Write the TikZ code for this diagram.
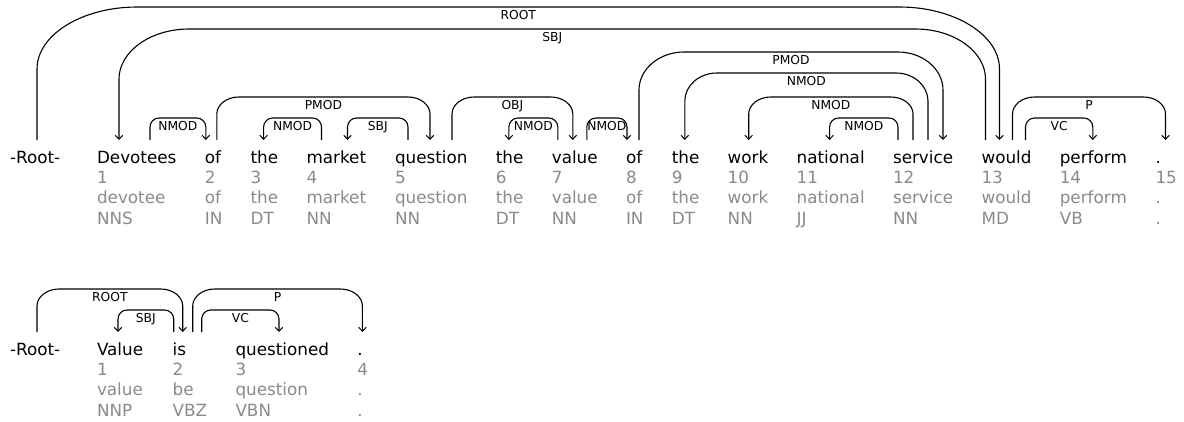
\documentclass[tikz,border=0pt]{standalone}
\usepackage{fontspec}
\setmainfont{DejaVu Sans}
\usetikzlibrary{calc,arrows.meta}
\definecolor{tokgray}{RGB}{138,138,138}
\tikzset{
  tok/.style={anchor=base west, inner sep=0pt, outer sep=0pt, font=\fontsize{16.8}{20}\selectfont},
  meta/.style={tok, text=tokgray},
  deparc/.style={line width=1.1pt, -{Straight Barb[length=4pt,width=7.5pt,line width=1pt]}},
  deplabel/.style={anchor=base, inner sep=0pt, yshift=-12pt, font=\fontsize{12.3}{13}\selectfont},
}
% one token column: word, index, lemma, tag
\newcommand\tokcol[7]{%
  \node[tok] (#1) at (#2,#3) {#4};
  \node[meta] (#1n) at ($(#1.base west)+(0,-20.3)$) {#5};
  \node[meta] (#1l) at ($(#1.base west)+(0,-40.6)$) {#6};
  \node[meta] (#1t) at ($(#1.base west)+(0,-61)$) {#7};
}
% attachment point above a word
\newcommand\att[3]{\coordinate (#1) at ($(#2.base west)+(#3,23)$);}
% dependency arc: head, dependent, top y, vertical radius, horizontal radius, label
\newcommand\deparc[6]{%
  \draw[deparc] let \p1=(#1), \p2=(#2), \n1={sign(\x2-\x1)} in
    (\p1) -- (\x1,{#3-#4})
    .. controls (\x1,{#3-0.45*#4}) and ({\x1+\n1*0.45*#5},#3) .. ({\x1+\n1*#5},#3)
    -- node[deplabel]{#6} ({\x2-\n1*#5},#3)
    .. controls ({\x2-\n1*0.45*#5},#3) and (\x2,{#3-0.45*#4}) .. (\x2,{#3-#4})
    -- (\p2);
}
\begin{document}
\begin{tikzpicture}[x=1pt,y=1pt]
\useasboundingbox (0,0) rectangle (1184,-421);

% ---- sentence 1 ----
\node[tok] (w0) at (10,-163) {-Root-};
\tokcol{w1}{97}{-163}{Devotees}{1}{devotee}{NNS}
\tokcol{w2}{204.8}{-163}{of}{2}{of}{IN}
\tokcol{w3}{250.6}{-163}{the}{3}{the}{DT}
\tokcol{w4}{306.5}{-163}{market}{4}{market}{NN}
\tokcol{w5}{395.0}{-163}{question}{5}{question}{NN}
\tokcol{w6}{495.9}{-163}{the}{6}{the}{DT}
\tokcol{w7}{551.8}{-163}{value}{7}{value}{NN}
\tokcol{w8}{626.0}{-163}{of}{8}{of}{IN}
\tokcol{w9}{671.8}{-163}{the}{9}{the}{DT}
\tokcol{w10}{727.7}{-163}{work}{10}{work}{NN}
\tokcol{w11}{796.6}{-163}{national}{11}{national}{JJ}
\tokcol{w12}{893.0}{-163}{service}{12}{service}{NN}
\tokcol{w13}{981.5}{-163}{would}{13}{would}{MD}
\tokcol{w14}{1059.8}{-163}{perform}{14}{perform}{VB}
\tokcol{w15}{1155.5}{-163}{.}{15}{.}{.}

\att{r0}{w0}{27}
\att{w1a}{w1}{22} \att{w1b}{w1}{53}
\att{w2a}{w2}{1} \att{w2b}{w2}{12}
\att{w3a}{w3}{13}
\att{w4a}{w4}{15} \att{w4b}{w4}{41}
\att{w5a}{w5}{13} \att{w5b}{w5}{35} \att{w5c}{w5}{57}
\att{w6a}{w6}{13}
\att{w7a}{w7}{6} \att{w7b}{w7}{21} \att{w7c}{w7}{35}
\att{w8a}{w8}{1} \att{w8b}{w8}{13}
\att{w9a}{w9}{13}
\att{w10a}{w10}{21}
\att{w11a}{w11}{33}
\att{w12a}{w12}{5} \att{w12b}{w12}{20} \att{w12c}{w12}{35} \att{w12d}{w12}{50}
\att{w13a}{w13}{4} \att{w13b}{w13}{18} \att{w13c}{w13}{31} \att{w13d}{w13}{44}
\att{w14a}{w14}{33}
\att{w15a}{w15}{10}

\deparc{r0}{w13b}{-7}{62}{100}{ROOT}
\deparc{w13a}{w1a}{-29}{50}{70}{SBJ}
\deparc{w1b}{w2a}{-118}{9}{9}{NMOD}
\deparc{w2b}{w5b}{-97}{17}{22}{PMOD}
\deparc{w4a}{w3a}{-118}{9}{9}{NMOD}
\deparc{w5a}{w4b}{-118}{9}{9}{SBJ}
\deparc{w5c}{w7b}{-97}{17}{22}{OBJ}
\deparc{w7a}{w6a}{-118}{9}{9}{NMOD}
\deparc{w7c}{w8a}{-118}{9}{9}{NMOD}
\deparc{w8b}{w12d}{-52}{38}{45}{PMOD}
\deparc{w12c}{w9a}{-73}{28}{32}{NMOD}
\deparc{w12b}{w10a}{-97}{17}{22}{NMOD}
\deparc{w12a}{w11a}{-118}{9}{9}{NMOD}
\deparc{w13c}{w15a}{-97}{17}{22}{P}
\deparc{w13d}{w14a}{-118}{9}{9}{VC}

% ---- sentence 2 ----
\node[tok] (v0) at (10,-355) {-Root-};
\tokcol{v1}{97}{-355}{Value}{1}{value}{NNP}
\tokcol{v2}{172.7}{-355}{is}{2}{be}{VBZ}
\tokcol{v3}{235.5}{-355}{questioned}{3}{question}{VBN}
\tokcol{v4}{357.4}{-355}{.}{4}{.}{.}

\att{r1}{v0}{27}
\att{v1a}{v1}{21}
\att{v2a}{v2}{1} \att{v2b}{v2}{10} \att{v2c}{v2}{20} \att{v2d}{v2}{29}
\att{v3a}{v3}{43.5}
\att{v4a}{v4}{5}

\deparc{r1}{v2b}{-289}{17}{22}{ROOT}
\deparc{v2a}{v1a}{-310}{9}{9}{SBJ}
\deparc{v2c}{v4a}{-289}{17}{22}{P}
\deparc{v2d}{v3a}{-310}{9}{9}{VC}
\end{tikzpicture}
\end{document}
